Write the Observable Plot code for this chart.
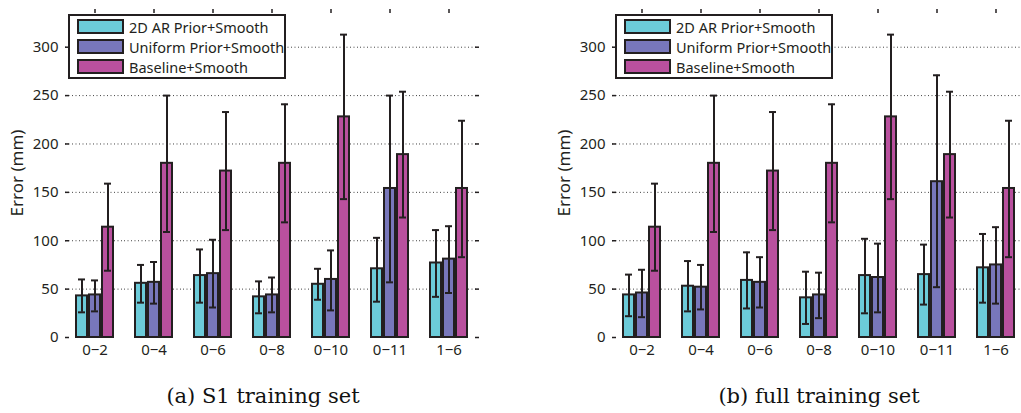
<!DOCTYPE html>
<html><head><meta charset="utf-8">
<script src="https://cdn.jsdelivr.net/npm/d3@7"></script>
<script src="https://cdn.jsdelivr.net/npm/@observablehq/plot@0.6"></script>
<style>
html,body{margin:0;padding:0;background:#fff;overflow:hidden;}
#root{position:relative;width:1021px;height:413px;overflow:hidden;font-family:"Noto Sans",sans-serif;color:#231f20;}
.panel{position:absolute;top:0;}
.panel svg{max-width:none !important;}
.legend{position:absolute;top:14px;box-sizing:border-box;width:218px;height:65px;border:2px solid #231f20;background:#fff;}
.row{position:absolute;left:7px;height:15px;display:flex;align-items:center;white-space:nowrap;font-size:14.5px;}
.sw{box-sizing:border-box;width:47px;height:15px;border:2px solid #231f20;margin-right:5px;}
.cap{position:absolute;top:384px;width:300px;text-align:center;font-family:"DejaVu Serif",serif;font-size:21px;color:#111;}
</style></head><body><div id="root"></div>
<script>
const categories = ["0−2", "0−4", "0−6", "0−8", "0−10", "0−11", "1−6"];
const series = ["2D AR Prior+Smooth", "Uniform Prior+Smooth", "Baseline+Smooth"];
const colors = ["#6ccbd9", "#7877bb", "#b9509e"];
const yTicks = [0, 50, 100, 150, 200, 250, 300];
const yMax = 340;
const yLabel = "Error (mm)";
const captions = ["(a) S1 training set", "(b) full training set"];

// (a) S1 training set
const s1ArMean  = [43, 56, 64, 42, 55, 71, 77];
const s1ArLo    = [26, 36, 36, 25, 39, 37, 42];
const s1ArHi    = [60, 75, 91, 58, 71, 103, 111];
const s1UniMean = [44, 57, 66, 44, 60, 154, 81];
const s1UniLo   = [27, 35, 31, 26, 28, 57, 46];
const s1UniHi   = [59, 78, 101, 62, 90, 250, 115];
const s1BaseMean = [114, 180, 172, 180, 228, 189, 154];
const s1BaseLo   = [69, 109, 111, 119, 143, 124, 83];
const s1BaseHi   = [159, 250, 233, 241, 313, 254, 224];

// (b) full training set
const fullArMean  = [44, 53, 59, 41, 64, 65, 72];
const fullArLo    = [22, 27, 30, 14, 25, 34, 36];
const fullArHi    = [65, 79, 88, 68, 102, 96, 107];
const fullUniMean = [46, 52, 57, 44, 62, 161, 75];
const fullUniLo   = [21, 29, 31, 20, 26, 52, 35];
const fullUniHi   = [70, 75, 83, 67, 97, 271, 114];
const fullBaseMean = [114, 180, 172, 180, 228, 189, 154];
const fullBaseLo   = [69, 109, 111, 119, 143, 124, 83];
const fullBaseHi   = [159, 250, 233, 241, 313, 254, 224];

function table(groups) {
  const rows = [];
  categories.forEach((cat, i) => {
    groups.forEach(([mean, lo, hi], s) => {
      rows.push({cat, series: series[s], mean: mean[i], lo: lo[i], hi: hi[i]});
    });
  });
  return rows;
}

const ink = "#231f20";

function chart(data, width) {
  const cap = {fx: "cat", x: "series", stroke: ink, strokeWidth: 2, insetLeft: 2, insetRight: 2};
  return Plot.plot({
    width, height: 365,
    marginLeft: 62, marginRight: width - 62 - 418, marginTop: 8, marginBottom: 28,
    fx: {domain: categories, padding: 0, label: null},
    x: {domain: series, paddingInner: 0.185, paddingOuter: 0.8, axis: null},
    y: {domain: [0, yMax]},
    color: {domain: series, range: colors},
    style: {fontSize: "15px", fontFamily: "Noto Sans, sans-serif", color: ink, background: "#fff", overflow: "visible", maxWidth: "none"},
    marks: [
      Plot.gridY(yTicks.slice(1), {stroke: "#444", strokeOpacity: 1, strokeDasharray: "1,2.5"}),
      Plot.barY(data, {fx: "cat", x: "series", y: "mean", fill: "series", stroke: ink, strokeWidth: 2}),
      Plot.ruleX(data, {fx: "cat", x: "series", y1: "lo", y2: "hi", stroke: ink, strokeWidth: 2}),
      Plot.tickY(data, {...cap, y: "lo"}),
      Plot.tickY(data, {...cap, y: "hi"}),
      Plot.axisY(yTicks, {anchor: "left", tickSize: -4, tickPadding: 11, line: true, strokeWidth: 1.5, label: null}),
      Plot.axisY([], {anchor: "left", tickSize: 0, label: yLabel, fontSize: 17, labelAnchor: "center", labelArrow: "none", labelOffset: 55}),
      Plot.axisY(yTicks, {anchor: "right", tickSize: -4, line: true, strokeWidth: 1.5, tickFormat: () => "", label: null}),
      Plot.axisFx({anchor: "top", tickSize: -4, line: true, strokeWidth: 1.5, tickFormat: () => "", label: null}),
      Plot.axisFx({anchor: "bottom", tickSize: 0, tickPadding: 7, line: true, strokeWidth: 1.5, label: null})
    ]
  });
}

const panels = [
  {left: 0, width: 506, data: table([[s1ArMean, s1ArLo, s1ArHi], [s1UniMean, s1UniLo, s1UniHi], [s1BaseMean, s1BaseLo, s1BaseHi]]), capCenter: 263},
  {left: 547, width: 506, data: table([[fullArMean, fullArLo, fullArHi], [fullUniMean, fullUniLo, fullUniHi], [fullBaseMean, fullBaseLo, fullBaseHi]]), capCenter: 819}
];

const root = document.getElementById("root");
panels.forEach((p, k) => {
  const div = document.createElement("div");
  div.className = "panel";
  div.style.left = p.left + "px";
  div.style.width = p.width + "px";
  div.appendChild(chart(p.data, p.width));
  const lg = document.createElement("div");
  lg.className = "legend";
  lg.style.left = (62 + 6) + "px";
  series.forEach((s, i) => {
    const r = document.createElement("div");
    r.className = "row";
    r.style.top = (3 + i * 20) + "px";
    const sw = document.createElement("div");
    sw.className = "sw";
    sw.style.background = colors[i];
    const t = document.createElement("span");
    t.textContent = s;
    r.appendChild(sw); r.appendChild(t);
    lg.appendChild(r);
  });
  div.appendChild(lg);
  root.appendChild(div);
  const c = document.createElement("div");
  c.className = "cap";
  c.style.left = (p.capCenter - 150) + "px";
  c.textContent = captions[k];
  root.appendChild(c);
});
</script></body></html>
